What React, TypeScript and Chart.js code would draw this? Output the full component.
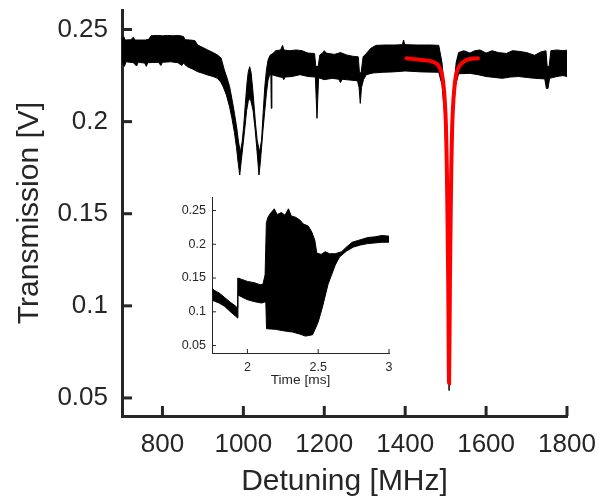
import React, { useEffect, useRef } from "react";
import { Chart, registerables } from "chart.js";

Chart.register(...registerables);

const FONT = "'Liberation Sans', Arial, Helvetica, sans-serif";
const TEXT = "#262626";

// ---- main plot: tick values / labels ----
const X_TICKS = [800, 1000, 1200, 1400, 1600, 1800];
const Y_TICKS = [0.05, 0.1, 0.15, 0.2, 0.25];
const Y_TICK_LABELS = ["0.05", "0.1", "0.15", "0.2", "0.25"];

// ---- main trace: noisy band, upper envelope [MHz, V] ----
const BAND_UPPER = [
  [700, 0.2443], [704, 0.2462], [708, 0.2443], [722, 0.2445], [728, 0.2458], [732, 0.2443],
  [748, 0.2443], [758, 0.2443], [766, 0.2447], [772, 0.2466], [788, 0.2468], [800, 0.2466],
  [812, 0.2468], [826, 0.2466], [840, 0.2468], [852, 0.2462], [856, 0.2445], [868, 0.2443],
  [880, 0.244], [887, 0.2416], [900, 0.2402], [912, 0.2389], [925, 0.2375], [936, 0.2362],
  [945, 0.2345], [953, 0.228], [960, 0.2235], [966, 0.219], [972, 0.212], [978, 0.2045],
  [984, 0.196], [988, 0.189], [992.5, 0.1835], [997, 0.189], [1001, 0.198], [1005, 0.21],
  [1009, 0.221], [1012, 0.2268], [1015.6, 0.2298], [1019, 0.2268], [1023, 0.218], [1026, 0.21],
  [1030, 0.199], [1034, 0.19], [1040, 0.1835], [1045, 0.19], [1049, 0.205], [1053, 0.219],
  [1057, 0.228], [1061, 0.2334], [1066, 0.236], [1073, 0.237], [1080, 0.2385], [1092, 0.2389],
  [1097, 0.2414], [1100, 0.2389], [1115, 0.2385], [1130, 0.2389], [1145, 0.2385], [1160, 0.2372],
  [1176, 0.237], [1179, 0.23], [1185, 0.23], [1189, 0.2362], [1196, 0.2372], [1200, 0.2385],
  [1205, 0.2372], [1225, 0.2365], [1240, 0.2375], [1255, 0.2362], [1270, 0.2355], [1284, 0.2352],
  [1287, 0.2265], [1291, 0.2265], [1296, 0.2352], [1304, 0.237], [1315, 0.2398], [1328, 0.2414],
  [1350, 0.2416], [1375, 0.2416], [1393, 0.2418], [1396, 0.2443], [1399, 0.2418], [1430, 0.2416],
  [1465, 0.2416], [1483, 0.2414], [1491, 0.232], [1498, 0.215], [1503, 0.18], [1506.5, 0.12],
  [1508.5, 0.07], [1510.5, 0.12], [1514, 0.18], [1519, 0.215], [1526, 0.232], [1532, 0.2375],
  [1545, 0.2385], [1560, 0.2372], [1572, 0.2385], [1585, 0.2389], [1600, 0.2372], [1615, 0.2385],
  [1630, 0.2375], [1650, 0.237], [1665, 0.2385], [1680, 0.2382], [1700, 0.2375], [1720, 0.236],
  [1735, 0.2378], [1748, 0.2385], [1751, 0.23], [1756, 0.23], [1760, 0.2385], [1775, 0.2389],
  [1790, 0.2385], [1800, 0.2388],
];

// ---- main trace: lower envelope [MHz, V] ----
const BAND_LOWER = [
  [700, 0.2325], [706, 0.23], [710, 0.2325], [728, 0.232], [736, 0.2302], [740, 0.2322],
  [756, 0.2318], [760, 0.23], [764, 0.232], [790, 0.2322], [796, 0.2305], [800, 0.2322],
  [820, 0.2325], [838, 0.232], [848, 0.2305], [852, 0.2318], [860, 0.23], [875, 0.2285],
  [887, 0.2271], [900, 0.2262], [912, 0.2253], [925, 0.2245], [936, 0.2235], [944, 0.2215],
  [950, 0.219], [958, 0.2145], [966, 0.208], [972, 0.2015], [978, 0.194], [983, 0.186],
  [987, 0.178], [991, 0.171], [995, 0.179], [999, 0.187], [1003, 0.195], [1008, 0.206],
  [1012, 0.211], [1015.6, 0.2127], [1019, 0.211], [1024, 0.206], [1029, 0.196], [1033, 0.186],
  [1036, 0.178], [1038.6, 0.171], [1042, 0.178], [1045, 0.186], [1048.5, 0.1954], [1053, 0.206],
  [1057, 0.2154], [1061, 0.2225], [1065, 0.2255], [1068, 0.2255], [1069, 0.2072], [1070.5, 0.2255],
  [1085, 0.2245], [1097, 0.224], [1100, 0.2228], [1103, 0.2242], [1120, 0.2245], [1140, 0.2255],
  [1160, 0.2245], [1178, 0.2242], [1182, 0.2018], [1186, 0.2238], [1200, 0.2228], [1220, 0.2235],
  [1236, 0.223], [1240, 0.2212], [1244, 0.223], [1262, 0.2226], [1282, 0.2222], [1286, 0.2185],
  [1289, 0.2099], [1292, 0.2185], [1297, 0.2228], [1304, 0.2255], [1320, 0.2264], [1345, 0.2268],
  [1370, 0.227], [1400, 0.2275], [1440, 0.227], [1483, 0.2268], [1491, 0.22], [1497, 0.205],
  [1503, 0.17], [1506, 0.1], [1508.5, 0.054], [1511, 0.1], [1514, 0.17], [1518, 0.205],
  [1525, 0.22], [1532, 0.226], [1560, 0.2262], [1580, 0.2255], [1600, 0.2245], [1620, 0.224],
  [1640, 0.2235], [1660, 0.2242], [1680, 0.2245], [1700, 0.224], [1720, 0.2235], [1745, 0.2232],
  [1749, 0.218], [1753, 0.218], [1757, 0.2235], [1775, 0.2245], [1790, 0.225], [1800, 0.2245],
];

// ---- red Lorentzian fit [MHz, V] ----
const FIT = [
  [1403, 0.2344], [1440, 0.2335], [1469, 0.2325], [1480, 0.231], [1486, 0.229], [1492, 0.2245],
  [1496, 0.217], [1499, 0.207], [1501, 0.196], [1503, 0.175], [1504.5, 0.15], [1506.5, 0.11],
  [1508.5, 0.058], [1510.5, 0.11], [1512.5, 0.15], [1514, 0.175], [1516, 0.196], [1518, 0.207],
  [1521, 0.217], [1525, 0.2245], [1531, 0.229], [1537, 0.231], [1551, 0.2334], [1580, 0.2344],
];

// ---- inset ----
const INSET_X_TICKS = [2, 2.5, 3];
const INSET_X_LABELS = ["2", "2.5", "3"];
const INSET_Y_TICKS = [0.05, 0.1, 0.15, 0.2, 0.25];
const INSET_Y_LABELS = ["0.05", "0.1", "0.15", "0.2", "0.25"];

const INSET_UPPER = [
  [1.752, 0.134], [1.78, 0.13], [1.8, 0.128], [1.84, 0.121], [1.88, 0.114], [1.92, 0.108],
  [1.928, 0.106], [1.932, 0.15], [1.96, 0.148], [2.0, 0.145], [2.05, 0.143], [2.09, 0.14],
  [2.11, 0.141], [2.125, 0.155], [2.134, 0.232], [2.145, 0.24], [2.16, 0.245], [2.19, 0.2525],
  [2.21, 0.244], [2.24, 0.247], [2.265, 0.243], [2.29, 0.2525], [2.31, 0.242], [2.34, 0.24],
  [2.37, 0.236], [2.395, 0.23], [2.43, 0.227], [2.455, 0.218], [2.476, 0.206], [2.49, 0.187],
  [2.52, 0.185], [2.55, 0.189], [2.58, 0.186], [2.62, 0.186], [2.665, 0.189], [2.7, 0.196],
  [2.74, 0.203], [2.795, 0.2065], [2.85, 0.21], [2.9, 0.211], [2.95, 0.213], [3.0, 0.212],
];
const INSET_LOWER = [
  [1.752, 0.117], [1.8, 0.113], [1.84, 0.108], [1.88, 0.1], [1.92, 0.093], [1.93, 0.091],
  [1.933, 0.125], [1.96, 0.122], [2.0, 0.118], [2.05, 0.115], [2.1, 0.113], [2.13, 0.115],
  [2.135, 0.075], [2.2, 0.074], [2.25, 0.072], [2.32, 0.07], [2.37, 0.067], [2.41, 0.064],
  [2.46, 0.066], [2.48, 0.075], [2.5, 0.085], [2.53, 0.107], [2.57, 0.141], [2.62, 0.169],
  [2.65, 0.181], [2.7, 0.19], [2.75, 0.196], [2.8, 0.199], [2.85, 0.201], [2.9, 0.202],
  [2.95, 0.203], [3.0, 0.203],
];

const pts = (arr: number[][]) => arr.map(([x, y]) => ({ x, y }));

function inwardTicks(len: number, width: number) {
  return {
    id: "inwardTicks",
    afterDraw(chart: any) {
      const { ctx, chartArea, scales } = chart;
      ctx.save();
      ctx.strokeStyle = TEXT;
      ctx.lineWidth = width;
      scales.x.ticks.forEach((t: any) => {
        const px = scales.x.getPixelForValue(t.value);
        ctx.beginPath();
        ctx.moveTo(px, chartArea.bottom);
        ctx.lineTo(px, chartArea.bottom - len);
        ctx.stroke();
      });
      scales.y.ticks.forEach((t: any) => {
        const py = scales.y.getPixelForValue(t.value);
        ctx.beginPath();
        ctx.moveTo(chartArea.left, py);
        ctx.lineTo(chartArea.left + len, py);
        ctx.stroke();
      });
      ctx.restore();
    },
  };
}

function mainConfig(): any {
  return {
    type: "line",
    data: {
      datasets: [
        {
          data: pts(FIT), borderColor: "#ff0000", borderWidth: 4, pointRadius: 0,
          fill: false, cubicInterpolationMode: "monotone", borderCapStyle: "round",
        },
        { data: pts(BAND_UPPER), borderColor: "#000", borderWidth: 1, pointRadius: 0, fill: false },
        {
          data: pts(BAND_LOWER), borderColor: "#000", borderWidth: 1, pointRadius: 0,
          backgroundColor: "#000", fill: "-1",
        },
      ],
    },
    options: {
      animation: false, responsive: false, devicePixelRatio: 1,
      layout: { padding: { left: 0, right: 33, top: 10, bottom: 0 } },
      plugins: { legend: { display: false }, tooltip: { enabled: false } },
      scales: {
        x: {
          type: "linear", min: 700, max: 1800,
          afterBuildTicks: (s: any) => { s.ticks = X_TICKS.map((v) => ({ value: v })); },
          afterFit: (s: any) => { s.height = 88; s.paddingLeft = 0; s.paddingRight = 0; },
          ticks: {
            font: { family: FONT, size: 26 }, color: TEXT, padding: 13,
            maxRotation: 0, autoSkip: false,
            callback: (v: any) => String(v),
          },
          grid: { display: false, drawTicks: false },
          border: { display: true, color: TEXT, width: 3 },
          title: {
            display: true, text: "Detuning [MHz]", color: TEXT,
            font: { family: FONT, size: 30 }, padding: { top: 0, bottom: 4 },
          },
        },
        y: {
          type: "linear", min: 0.0402, max: 0.2606,
          afterBuildTicks: (s: any) => { s.ticks = Y_TICKS.map((v) => ({ value: v })); },
          afterFit: (s: any) => { s.width = 122; s.paddingTop = 0; s.paddingBottom = 0; },
          ticks: {
            font: { family: FONT, size: 26 }, color: TEXT, padding: 14, autoSkip: false,
            callback: (_v: any, i: number) => Y_TICK_LABELS[i],
          },
          grid: { display: false, drawTicks: false },
          border: { display: true, color: TEXT, width: 3 },
          title: {
            display: true, text: "Transmission [V]", color: TEXT,
            font: { family: FONT, size: 30 }, padding: { top: 12, bottom: 0 },
          },
        },
      },
    },
    plugins: [inwardTicks(10, 3)],
  };
}

function insetConfig(): any {
  return {
    type: "line",
    data: {
      datasets: [
        { data: pts(INSET_UPPER), borderColor: "#000", borderWidth: 1, pointRadius: 0, fill: false },
        {
          data: pts(INSET_LOWER), borderColor: "#000", borderWidth: 1, pointRadius: 0,
          backgroundColor: "#000", fill: "-1",
        },
      ],
    },
    options: {
      animation: false, responsive: false, devicePixelRatio: 1,
      layout: { padding: { left: 0, right: 11, top: 12, bottom: 0 } },
      plugins: { legend: { display: false }, tooltip: { enabled: false } },
      scales: {
        x: {
          type: "linear", min: 1.75, max: 3,
          afterBuildTicks: (s: any) => { s.ticks = INSET_X_TICKS.map((v) => ({ value: v })); },
          afterFit: (s: any) => { s.height = 42; s.paddingLeft = 0; s.paddingRight = 0; },
          ticks: {
            font: { family: FONT, size: 12.5 }, color: TEXT, padding: 7,
            maxRotation: 0, autoSkip: false,
            callback: (_v: any, i: number) => INSET_X_LABELS[i],
          },
          grid: { display: false, drawTicks: false },
          border: { display: true, color: TEXT, width: 1 },
          title: {
            display: true, text: "Time [ms]", color: TEXT,
            font: { family: FONT, size: 13.7 }, padding: { top: 0, bottom: 7 },
          },
        },
        y: {
          type: "linear", min: 0.039, max: 0.27,
          afterBuildTicks: (s: any) => { s.ticks = INSET_Y_TICKS.map((v) => ({ value: v })); },
          afterFit: (s: any) => { s.width = 62; s.paddingTop = 0; s.paddingBottom = 0; },
          ticks: {
            font: { family: FONT, size: 12.5 }, color: TEXT, padding: 6, autoSkip: false,
            callback: (_v: any, i: number) => INSET_Y_LABELS[i],
          },
          grid: { display: false, drawTicks: false },
          border: { display: true, color: TEXT, width: 1 },
        },
      },
    },
    plugins: [inwardTicks(4, 1)],
  };
}

export default function App() {
  const mainRef = useRef<HTMLCanvasElement | null>(null);
  const insetRef = useRef<HTMLCanvasElement | null>(null);

  useEffect(() => {
    const c1 = new Chart(mainRef.current as HTMLCanvasElement, mainConfig());
    const c2 = new Chart(insetRef.current as HTMLCanvasElement, insetConfig());
    return () => {
      c1.destroy();
      c2.destroy();
    };
  }, []);

  return (
    <div style={{ position: "fixed", left: 0, top: 0, width: 600, height: 504, background: "#fff" }}>
      <canvas ref={mainRef} width={600} height={504} style={{ position: "absolute", left: 0, top: 0 }} />
      <canvas ref={insetRef} width={250} height={210} style={{ position: "absolute", left: 150, top: 185 }} />
    </div>
  );
}
